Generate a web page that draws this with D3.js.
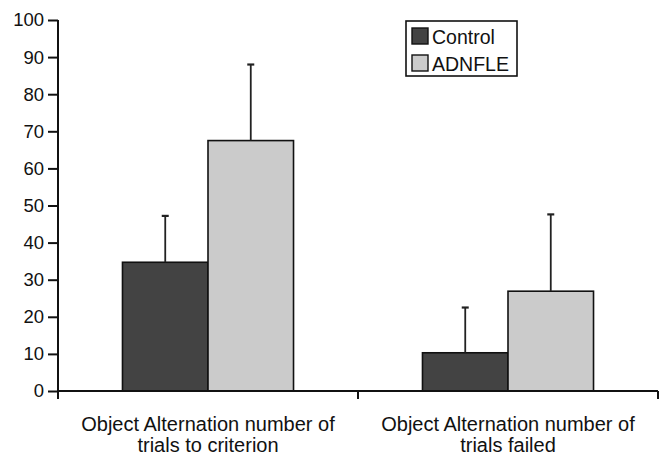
<!DOCTYPE html>
<html>
<head>
<meta charset="utf-8">
<script src="https://cdn.jsdelivr.net/npm/d3@7"></script>
<style>
  html, body { margin: 0; padding: 0; background: #fff; }
  svg { display: block; font-family: "Liberation Sans", Arial, sans-serif; }
</style>
</head>
<body>
<svg id="chart" width="665" height="455"></svg>
<script>
const categories = [
  ["Object Alternation number of", "trials to criterion"],
  ["Object Alternation number of", "trials failed"]
];
const seriesNames = ["Control", "ADNFLE"];
const controlValues = [34.7, 10.3];
const adnfleValues = [67.5, 26.9];
const controlErrors = [12.5, 12.2];
const adnfleErrors = [20.5, 20.7];
const yTicks = [0, 10, 20, 30, 40, 50, 60, 70, 80, 90, 100];
const colors = ["#434343", "#cbcbcb"];

const svg = d3.select("#chart");
const margin = { left: 58, right: 7, top: 20, bottom: 64 };
const W = 665, H = 455;
const x0 = margin.left, x1 = W - margin.right;
const yBottom = H - margin.bottom, yTop = margin.top;

const x = d3.scaleBand().domain(d3.range(categories.length)).range([x0, x1]).paddingInner(0).paddingOuter(0);
const xs = d3.scaleBand().domain(seriesNames).range([0, x.bandwidth()]).paddingInner(0).paddingOuter(0.754);
const y = d3.scaleLinear().domain([0, 100]).range([yBottom, yTop]);

const data = categories.map((c, i) => ({
  i,
  vals: [
    { s: "Control", v: controlValues[i], e: controlErrors[i], c: colors[0] },
    { s: "ADNFLE", v: adnfleValues[i], e: adnfleErrors[i], c: colors[1] }
  ]
}));

const g = svg.append("g");

const groups = g.selectAll(".grp").data(data).enter().append("g")
  .attr("transform", d => `translate(${x(d.i)},0)`);

groups.selectAll("rect").data(d => d.vals).enter().append("rect")
  .attr("x", d => xs(d.s))
  .attr("y", d => y(d.v))
  .attr("width", xs.bandwidth())
  .attr("height", d => y(0) - y(d.v))
  .attr("fill", d => d.c)
  .attr("stroke", "#111")
  .attr("stroke-width", 1.6);

groups.selectAll(".err").data(d => d.vals).enter().append("line")
  .attr("x1", d => xs(d.s) + xs.bandwidth() / 2)
  .attr("x2", d => xs(d.s) + xs.bandwidth() / 2)
  .attr("y1", d => y(d.v))
  .attr("y2", d => y(d.v + d.e))
  .attr("stroke", "#222").attr("stroke-width", 1.8);
groups.selectAll(".cap").data(d => d.vals).enter().append("line")
  .attr("x1", d => xs(d.s) + xs.bandwidth() / 2 - 3.5)
  .attr("x2", d => xs(d.s) + xs.bandwidth() / 2 + 3.5)
  .attr("y1", d => y(d.v + d.e))
  .attr("y2", d => y(d.v + d.e))
  .attr("stroke", "#222").attr("stroke-width", 2.2);

const yAxis = d3.axisLeft(y).tickValues(yTicks).tickSize(10).tickPadding(4).tickSizeOuter(0);
const ya = svg.append("g").attr("transform", `translate(${x0},0)`).call(yAxis);
ya.select(".domain").attr("stroke", "#111").attr("stroke-width", 2).attr("d", `M0,${yTop}V${yBottom + 8}`);
ya.selectAll(".tick line").attr("stroke", "#111").attr("stroke-width", 2);
ya.selectAll(".tick text").attr("font-size", "18.5px").attr("fill", "#111")
  .attr("font-family", "'Liberation Sans', Arial, sans-serif");

const xBoundaries = d3.range(categories.length + 1).map(i => i < categories.length ? x(i) : x(i - 1) + x.bandwidth());
const xa = svg.append("g");
xa.append("path").attr("d", `M${x0},${yBottom}H${x1}`).attr("stroke", "#111").attr("stroke-width", 2).attr("fill", "none");
xa.selectAll(".xt").data(xBoundaries.slice(1)).enter().append("line")
  .attr("x1", d => d).attr("x2", d => d)
  .attr("y1", yBottom).attr("y2", yBottom + 8)
  .attr("stroke", "#111").attr("stroke-width", 2);

const labels = svg.append("g").selectAll("text").data(data).enter().append("text")
  .attr("x", d => x(d.i) + x.bandwidth() / 2)
  .attr("y", 431)
  .attr("text-anchor", "middle")
  .attr("font-size", "20px")
  .attr("fill", "#111");
labels.selectAll("tspan").data(d => categories[d.i]).enter().append("tspan")
  .attr("x", function() { return d3.select(this.parentNode).attr("x"); })
  .attr("dy", (d, i) => i === 0 ? 0 : 20.5)
  .text(d => d);

const leg = svg.append("g").attr("transform", "translate(406,21)");
leg.append("rect").attr("x", 0).attr("y", 0).attr("width", 111).attr("height", 55)
  .attr("fill", "#fff").attr("stroke", "#111").attr("stroke-width", 1.6);
seriesNames.forEach((s, i) => {
  leg.append("rect").attr("x", 6).attr("y", 7 + i * 27).attr("width", 16).attr("height", 16)
    .attr("fill", colors[i]).attr("stroke", "#111").attr("stroke-width", 1.4);
  leg.append("text").attr("x", 26).attr("y", 22.5 + i * 27).attr("font-size", "19.5px")
    .attr("fill", "#111").text(s);
});
</script>
</body>
</html>
